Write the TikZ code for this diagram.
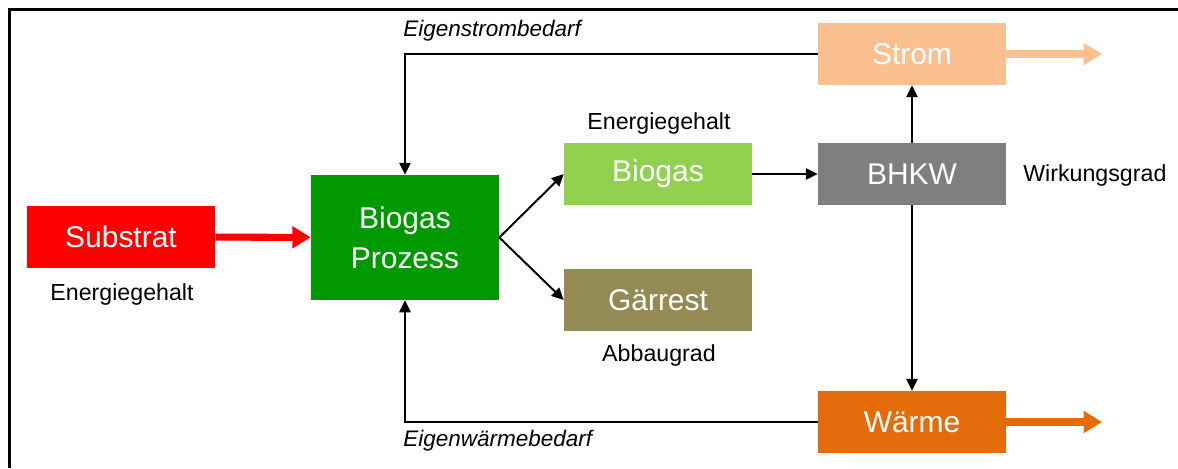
\documentclass[tikz,border=0pt]{standalone}
\usepackage{fontspec}
\setmainfont{Liberation Sans}
\usetikzlibrary{arrows.meta}

\definecolor{substratred}{HTML}{FF0000}
\definecolor{prozessgreen}{HTML}{009900}
\definecolor{biogasgreen}{HTML}{92D050}
\definecolor{gaerrestolive}{HTML}{948A54}
\definecolor{bhkwgray}{HTML}{7F7F7F}
\definecolor{stromorange}{HTML}{FAC090}
\definecolor{waermeorange}{HTML}{E46C0A}

\tikzset{
  box/.style={minimum width=4.7cm, minimum height=1.55cm, inner sep=0pt,
              text=white, align=center, font=\fontsize{21.3}{28.5}\selectfont},
  lbl/.style={inner sep=0pt, font=\fontsize{16.5}{20}\selectfont},
  flow/.style={line width=1.4pt, -{Triangle[length=8.5pt,width=8pt]}},
  outflow/.style={line width=5pt, -{Triangle[length=13pt,width=15pt]}},
}

\begin{document}
\begin{tikzpicture}[x=0.025cm, y=-0.025cm]
  \useasboundingbox (0,0) rectangle (1178,468);
  \draw [line width=1.8pt] (9.5,468) -- (9.5,9.5) -- (1178,9.5);           % frame

  % boxes
  \node [box, fill=substratred]   (substrat) at (121,237)  {Substrat};
  \node [box, fill=prozessgreen, minimum height=3.125cm]
                                  (prozess)  at (405,237.5) {Biogas\\Prozess};
  \node [box, fill=biogasgreen]   (biogas)   at (658,174)  {Biogas};
  \node [box, fill=gaerrestolive] (gaerrest) at (658,300)  {Gärrest};
  \node [box, fill=bhkwgray]      (bhkw)     at (912,174)  {BHKW};
  \node [box, fill=stromorange]   (strom)    at (912,54)   {Strom};
  \node [box, fill=waermeorange]  (waerme)   at (912,422)  {Wärme};

  % labels
  \node [lbl] (ensub)  at (122,294) {Energiegehalt};
  \node [lbl] (enbio)  at (659,123) {Energiegehalt};
  \node [lbl] (abbau)  at (659,355) {Abbaugrad};
  \node [lbl, anchor=west] (wirk) at (1023,175) {Wirkungsgrad};
  \node [lbl, anchor=west, font=\fontsize{16}{20}\selectfont\itshape]
        (eigstrom) at (403,31)  {Eigenstrombedarf};
  \node [lbl, anchor=west, font=\fontsize{16}{20}\selectfont\itshape]
        (eigwaerme) at (403,441) {Eigenwärmebedarf};

  % outputs
  \coordinate (stromout)  at (1102,54);
  \coordinate (waermeout) at (1102,422);

  % connectors
  \draw [outflow, substratred]  (substrat) -- (prozess);
  \draw [flow] (prozess.east) -- (biogas.west);
  \draw [flow] (prozess.east) -- (gaerrest.west);
  \draw [flow] (biogas) -- (bhkw);
  \draw [flow] (bhkw) -- (strom);
  \draw [flow] (bhkw) -- (waerme);
  \draw [flow] (strom.west) -| (prozess.north);                            % Eigenstrom
  \draw [flow] (waerme.west) -| (prozess.south);                           % Eigenwaerme
  \draw [outflow, stromorange]  (strom) -- (stromout);
  \draw [outflow, waermeorange] (waerme) -- (waermeout);
\end{tikzpicture}
\end{document}
